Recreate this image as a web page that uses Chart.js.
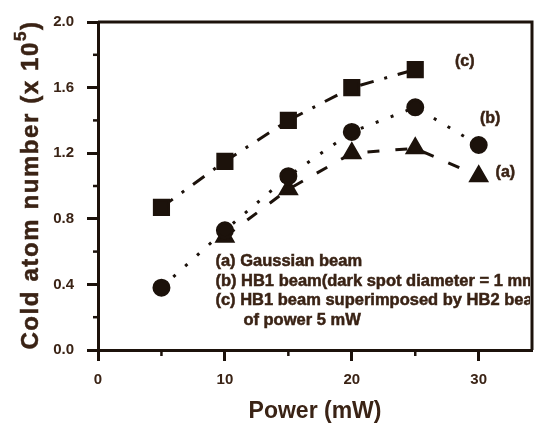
<!DOCTYPE html>
<html>
<head>
<meta charset="utf-8">
<script src="https://cdn.jsdelivr.net/npm/chart.js@4/dist/chart.umd.min.js"></script>
<style>
html, body { margin: 0; padding: 0; background: #fff; }
#wrap { width: 545px; height: 425px; }
</style>
</head>
<body>
<div id="wrap"><canvas id="chart"></canvas></div>
<script>
// values
const powerMW = [5, 10, 15, 20, 25, 30];
const gaussianBeam = [null, 0.69, 0.98, 1.20, 1.23, 1.06];   // (a) triangles
const hb1Beam = [0.38, 0.73, 1.06, 1.33, 1.48, 1.25];          // (b) circles
const hb1WithHb2 = [0.87, 1.15, 1.40, 1.60, 1.71, null];       // (c) squares
const xTickLabels = ['0', '10', '20', '30'];
const yTickLabels = ['0.0', '0.4', '0.8', '1.2', '1.6', '2.0'];
const curveTags = ['(a)', '(b)', '(c)'];
const curveTagAt = [[32.1, 1.08], [30.9, 1.41], [28.9, 1.76]];
const noteLines = [
    '(a) Gaussian beam',
    '(b) HB1 beam(dark spot diameter = 1 mm)',
    '(c) HB1 beam superimposed by HB2 beam',
    'of power 5 mW'
];

const INK = '#1c120b';
const TEXT = '#3a2315';
const FONT = '"Liberation Sans", Arial, sans-serif';

function toPoints(values) {
    return powerMW.map((x, i) => ({ x: x, y: values[i] })).filter(p => p.y !== null);
}

function isMajorX(v) { return xTickLabels.includes(String(v)); }
function isMajorY(v) { return yTickLabels.includes(v.toFixed(1)); }

// fill plus a thin stroke, the scan makes the lettering look heavy
function heavyText(ctx, s, x, y) {
    ctx.fillText(s, x, y);
    ctx.strokeText(s, x, y);
}

const framePlugin = {
    id: 'frame',
    afterDraw(chart) {
        const { ctx, chartArea: a, scales } = chart;
        ctx.save();
        // top and right edges of the box
        ctx.strokeStyle = INK;
        ctx.lineWidth = 3;
        ctx.beginPath();
        ctx.moveTo(a.left, a.top);
        ctx.lineTo(a.right, a.top);
        ctx.lineTo(a.right, a.bottom);
        ctx.stroke();

        // minor ticks
        ctx.lineWidth = 2.5;
        scales.x.ticks.forEach(t => {
            if (isMajorX(t.value)) return;
            const px = scales.x.getPixelForValue(t.value);
            ctx.beginPath();
            ctx.moveTo(px, a.bottom);
            ctx.lineTo(px, a.bottom + 6);
            ctx.stroke();
        });
        scales.y.ticks.forEach(t => {
            if (isMajorY(t.value)) return;
            const py = scales.y.getPixelForValue(t.value);
            ctx.beginPath();
            ctx.moveTo(a.left, py);
            ctx.lineTo(a.left - 5, py);
            ctx.stroke();
        });

        // curve tags
        ctx.fillStyle = TEXT;
        ctx.strokeStyle = TEXT;
        ctx.lineWidth = 0.5;
        ctx.font = 'bold 16px ' + FONT;
        ctx.textAlign = 'center';
        ctx.textBaseline = 'middle';
        curveTags.forEach((s, i) => {
            heavyText(ctx, s, scales.x.getPixelForValue(curveTagAt[i][0]), scales.y.getPixelForValue(curveTagAt[i][1]));
        });

        // notes block, clipped by the frame like the original
        ctx.beginPath();
        ctx.rect(a.left, a.top, a.right - a.left - 2, a.bottom - a.top);
        ctx.clip();
        ctx.textAlign = 'left';
        ctx.font = 'bold 16.5px ' + FONT;
        const nx = scales.x.getPixelForValue(9.25);
        const ny = scales.y.getPixelForValue(0.54);
        noteLines.forEach((s, i) => {
            heavyText(ctx, s, i === 3 ? nx + 28 : nx, ny + i * 19.7);
        });
        ctx.restore();

        // y title with superscript
        ctx.save();
        ctx.fillStyle = TEXT;
        ctx.strokeStyle = TEXT;
        ctx.lineWidth = 0.5;
        ctx.translate(31, (a.top + a.bottom) / 2 - 1);
        ctx.rotate(-Math.PI / 2);
        ctx.letterSpacing = '1.6px';
        ctx.font = 'bold 24px ' + FONT;
        ctx.textBaseline = 'middle';
        const main = 'Cold atom number (x 10';
        const wMain = ctx.measureText(main).width;
        ctx.font = 'bold 17px ' + FONT;
        const wSup = ctx.measureText('5').width;
        ctx.font = 'bold 24px ' + FONT;
        const wEnd = ctx.measureText(')').width;
        const x0 = -(wMain + wSup + wEnd) / 2;
        ctx.textAlign = 'left';
        heavyText(ctx, main, x0, 0);
        ctx.font = 'bold 17px ' + FONT;
        heavyText(ctx, '5', x0 + wMain, -10);
        ctx.font = 'bold 24px ' + FONT;
        heavyText(ctx, ')', x0 + wMain + wSup, 0);
        ctx.restore();
    }
};

new Chart(document.getElementById('chart'), {
    type: 'line',
    data: {
        datasets: [
            {
                label: '(b) HB1 beam',
                data: toPoints(hb1Beam),
                borderColor: INK,
                backgroundColor: INK,
                borderWidth: 3,
                borderDash: [3, 13],
                pointStyle: 'circle',
                pointRadius: 7.5,
                tension: 0
            },
            {
                label: '(a) Gaussian beam',
                data: toPoints(gaussianBeam),
                borderColor: INK,
                backgroundColor: INK,
                borderWidth: 3,
                borderDash: [12, 16],
                pointStyle: 'triangle',
                pointRadius: 9,
                tension: 0
            },
            {
                label: '(c) HB1 + HB2',
                data: toPoints(hb1WithHb2),
                borderColor: INK,
                backgroundColor: INK,
                borderWidth: 3,
                borderDash: [14, 11, 3, 11],
                pointStyle: 'rect',
                pointRadius: 10,
                tension: 0
            }
        ]
    },
    options: {
        responsive: true,
        maintainAspectRatio: false,
        animation: false,
        events: [],
        layout: { padding: { top: 16, right: 8, left: 0, bottom: 0 } },
        plugins: { legend: { display: false }, tooltip: { enabled: false } },
        scales: {
            x: {
                type: 'linear',
                min: 0,
                max: 34.2,
                afterBuildTicks: axis => { axis.ticks = axis.ticks.filter(t => t.value % 5 === 0); },
                afterFit: scale => { scale.height = 75; },
                ticks: {
                    stepSize: 5,
                    color: TEXT,
                    font: { family: FONT, size: 15, weight: 'bold' },
                    padding: 10,
                    maxRotation: 0,
                    autoSkip: false,
                    callback: v => isMajorX(v) ? String(v) : ''
                },
                grid: {
                    drawOnChartArea: false,
                    tickLength: 11,
                    tickWidth: 3,
                    tickColor: c => isMajorX(c.tick.value) ? INK : 'rgba(0,0,0,0)'
                },
                border: { color: INK, width: 3 },
                title: {
                    display: true,
                    text: 'Power (mW)',
                    color: TEXT,
                    font: { family: FONT, size: 23, weight: 'bold' },
                    padding: 0
                }
            },
            y: {
                min: 0,
                max: 2,
                afterFit: scale => { scale.width = 98; },
                ticks: {
                    stepSize: 0.2,
                    color: TEXT,
                    font: { family: FONT, size: 15, weight: 'bold' },
                    padding: 13,
                    autoSkip: false,
                    callback: v => isMajorY(v) ? v.toFixed(1) : ''
                },
                grid: {
                    drawOnChartArea: false,
                    tickLength: 11,
                    tickWidth: 3,
                    tickColor: c => isMajorY(c.tick.value) ? INK : 'rgba(0,0,0,0)'
                },
                border: { color: INK, width: 3 }
            }
        }
    },
    plugins: [framePlugin]
});
</script>
</body>
</html>
